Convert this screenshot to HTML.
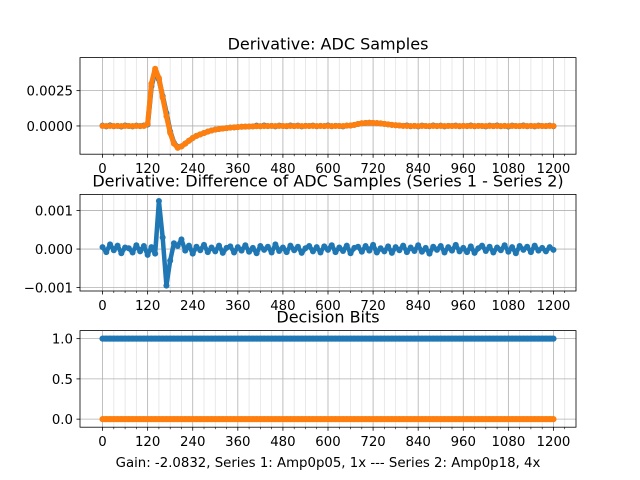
<!DOCTYPE html>
<html><head><meta charset="utf-8"><style>
html,body{margin:0;padding:0;background:#fff;}
svg{display:block;font-family:"DejaVu Sans","Liberation Sans",sans-serif;}
</style></head><body>
<svg id="fig" width="640" height="480" viewBox="0 0 640 480"></svg>
<script>
// sample index spacing: every array entry is 10 samples apart
const sampleStep = 10;
const xTicks = [0,120,240,360,480,600,720,840,960,1080,1200];
// top: derivative ADC samples (units 1e-4)
const topSeries1 = [0.2,-0.3,0.4,-0.2,0.1,-0.4,0.3,0,-0.3,0.2,-0.1,0.3,1,28,39,33,21,9,-4,-12,-15,-14.5,-12.5,-10.5,-8.5,-7,-6,-5,-4,-3.2,-2.6,-2.2,-1.8,-1.5,-1.2,-1,-0.8,-0.6,-0.5,-0.4,-0.3,0.2,-0.2,0.3,-0.1,0.1,-0.3,0.2,0,-0.2,0.3,-0.1,0.2,-0.3,0.1,0,0.2,-0.2,0.1,-0.1,0.3,-0.2,0.1,0,-0.3,0.2,0.3,0.8,1.4,1.9,2.1,2.3,2.2,2.0,1.8,1.5,1.1,0.8,0.5,0.3,0.1,0.3,-0.2,0.1,-0.3,0.2,0,-0.2,0.3,-0.1,0.2,-0.3,0.1,0,0.2,-0.2,0.1,-0.1,0.3,-0.2,0.1,0,-0.3,0.2,-0.1,0.3,-0.2,0.1,-0.4,0.2,0,-0.1,0.3,-0.2,0.1,-0.3,0.2,0,-0.1,0.2,-0.2];
const topSeries2 = [0,0,0,0,0,0,0,0,0,0,0,0,1.5,30,40.5,34,20,7,-5,-12.5,-15.5,-14.5,-12.5,-10.5,-8.5,-7,-6,-5,-4,-3.2,-2.6,-2.2,-1.8,-1.5,-1.2,-1,-0.8,-0.6,-0.5,-0.4,-0.3,-0.2,-0.1,-0.1,0,0,0,0,0,0,0,0,0,0,0,0,0,0,0,0,0,0,0,0,0,0.2,0.3,0.8,1.4,1.9,2.1,2.3,2.2,2.0,1.8,1.5,1.1,0.8,0.5,0.3,0.1,0,0,0,0,0,0,0,0,0,0,0,0,0,0,0,0,0,0,0,0,0,0,0,0,0,0,0,0,0,0,0,0,0,0,0,0,0,0,0,0,0,0];
const topYTicks = [0, 25];
const topYLabels = ["0.0000","0.0025"];
// middle: difference (units 1e-4)
const diffSeries = [0.5,-0.8,1.2,-0.3,0.9,-1.1,0.4,0.2,-0.9,1.0,-0.6,0.8,-1.5,0.5,-1.2,12.5,3,-9.5,-3,1.5,0.8,2.5,-0.4,0.9,-1.2,0.6,-0.3,1.1,-0.8,0.4,-0.6,0.9,-1.0,0.3,0.7,-0.9,0.5,-0.4,1.0,-0.7,0.3,-1.1,0.8,-0.2,0.6,-0.9,1.2,-0.5,0.4,-0.8,0.9,-0.3,0.6,-1.0,0.2,0.8,-0.6,0.5,-0.9,0.7,-0.2,1.0,-0.8,0.4,-0.5,0.9,-1.1,0.3,0.6,-0.7,0.8,-0.4,1.1,-0.9,0.2,-0.6,0.7,-1.0,0.5,-0.3,0.9,-0.8,0.4,-0.5,1.0,-0.7,0.3,-1.2,0.6,-0.2,0.8,-0.9,0.5,-0.4,1.1,-0.6,0.3,-0.8,0.7,-1.0,0.2,0.9,-0.5,0.6,-0.9,0.4,-0.3,1.0,-0.7,0.5,-1.1,0.8,-0.2,0.6,-0.8,0.9,-0.4,0.3,-0.6,0.5,-0.2];
const midYTicks = [-10, 0, 10];
const midYLabels = ["\u22120.001","0.000","0.001"];
// bottom: decision bits
const bitsSeries1 = new Array(121).fill(1);
const bitsSeries2 = new Array(121).fill(0);
const botYTicks = [0, 0.5, 1];
const botYLabels = ["0.0","0.5","1.0"];

const NS = "http://www.w3.org/2000/svg";
const svg = document.getElementById('fig');
function mk(tag, attrs, parent){const e=document.createElementNS(NS,tag);for(const k in attrs)e.setAttribute(k,attrs[k]);(parent||svg).appendChild(e);return e;}

const L=80,R=576;
const xmin=-60,xmax=1260;
const sx = v => L + (v-xmin)/(xmax-xmin)*(R-L);

function panel(name, top, bot, ymin, ymax, yTicks, yLabels, series, title, lw){
  const g = mk('g',{});
  
  
  const sy = v => bot - (v-ymin)/(ymax-ymin)*(bot-top);
  for(let v=0; v<=1230; v+=30){
    if(v%120===0) continue;
    const l=mk('line',{x1:sx(v),x2:sx(v),y1:top,y2:bot,stroke:'#e3e3e3','stroke-width':0.8},g);
    
    
    mk('line',{x1:sx(v),x2:sx(v),y1:bot,y2:bot+2,stroke:'#000','stroke-width':0.6},g);
  }
  xTicks.forEach(v=>{
    const l=mk('line',{x1:sx(v),x2:sx(v),y1:top,y2:bot,stroke:'#b0b0b0','stroke-width':0.8},g);
    
    
    mk('line',{x1:sx(v),x2:sx(v),y1:bot,y2:bot+3.5,stroke:'#000','stroke-width':0.8},g);
    const t=mk('text',{x:sx(v),y:bot+19,'font-size':13.3,'text-anchor':'middle',fill:'#000'},g);
    t.textContent=v;
    
    
  });
  yTicks.forEach((v,i)=>{
    const y=sy(v);
    const l=mk('line',{x1:L,x2:R,y1:y,y2:y,stroke:'#b0b0b0','stroke-width':0.8},g);
    
    
    mk('line',{x1:L-3.5,x2:L,y1:y,y2:y,stroke:'#000','stroke-width':0.8},g);
    const t=mk('text',{x:L-7,y:y+5,'font-size':13.3,'text-anchor':'end',fill:'#000'},g);
    t.textContent=yLabels[i];
    
    
  });
  const colors=['#1f77b4','#ff7f0e'];
  series.forEach((s,si)=>{
    const sg=mk('g',{fill:colors[si]},g);
    
    
    const pts=[];
    s.forEach((v,i)=>{ const xv=i*sampleStep; if(xv<=1200) pts.push([sx(xv),sy(v)]); });
    let d='';
    pts.forEach((p,i)=>{d+=(i?'L':'M')+p[0].toFixed(2)+' '+p[1].toFixed(2);});
    mk('path',{d:d,fill:'none',stroke:colors[si],'stroke-width':lw,'stroke-linejoin':'round','stroke-linecap':'round'},sg);
    pts.forEach(p=>{
      const c=mk('circle',{cx:p[0],cy:p[1],r:3},sg);
      
      
    });
  });
  const f=mk('rect',{x:L,y:top,width:R-L,height:bot-top,fill:'none',stroke:'#000','stroke-width':0.8},g);
  
  
  const t=mk('text',{x:(L+R)/2,y:top-8,'font-size':16,'text-anchor':'middle',fill:'#000'},g);
  t.textContent=title;
  
  
}

panel('adc-derivative-panel',57.6,154.2,-20,48.4,topYTicks,topYLabels,[topSeries1,topSeries2],'Derivative: ADC Samples',5);
panel('difference-panel',194.4,291,-10.9,14.2,midYTicks,midYLabels,[diffSeries],'Derivative: Difference of ADC Samples (Series 1 - Series 2)',4.5);
panel('decision-bits-panel',330.6,427.2,-0.1,1.1,botYTicks,botYLabels,[bitsSeries1,bitsSeries2],'Decision Bits',6);

const xl=mk('text',{x:(L+R)/2,y:467,'font-size':13.3,'text-anchor':'middle',fill:'#000'});
xl.textContent='Gain: -2.0832, Series 1: Amp0p05, 1x --- Series 2: Amp0p18, 4x';


</script>
</body></html>
